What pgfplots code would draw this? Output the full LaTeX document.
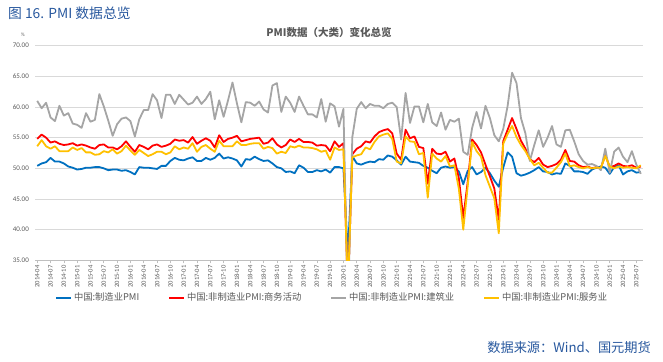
\documentclass[border=0pt]{standalone}
\usepackage{pgfplots}
\pgfplotsset{compat=1.18}
\usepackage{pgfplotstable}
\usepackage{fontspec}
\setmainfont{Noto Sans CJK SC}
\newfontfamily\numfont{Carlito}
\definecolor{cblue}{RGB}{0,112,192}
\definecolor{cred}{RGB}{255,0,0}
\definecolor{cgray}{RGB}{165,165,165}
\definecolor{cyellow}{RGB}{255,192,0}
\definecolor{titleblue}{RGB}{40,88,158}
\definecolor{txtgray}{RGB}{89,89,89}
\definecolor{gridgray}{RGB}{217,217,217}
\definecolor{axgray}{RGB}{191,191,191}

\pgfplotstableread{
i mfg non cons serv
0 50.4 54.8 61.0 53.6
1 50.8 55.5 59.8 54.6
2 51.0 55.0 60.7 53.6
3 51.7 54.2 58.3 53.2
4 51.1 54.4 57.7 53.6
5 51.1 54.0 60.2 52.8
6 50.8 53.8 58.6 52.8
7 50.3 53.9 59.0 52.8
8 50.1 54.1 57.3 53.4
9 49.8 53.7 57.1 53.0
10 49.9 53.9 56.6 53.3
11 50.1 53.7 59.0 52.6
12 50.1 53.4 57.6 52.6
13 50.2 53.2 57.9 52.2
14 50.2 53.8 62.1 52.3
15 50.0 53.9 60.1 52.8
16 49.7 53.4 57.8 52.6
17 49.8 53.4 55.3 53.1
18 49.8 53.1 57.2 52.4
19 49.6 53.6 58.1 52.8
20 49.7 54.4 58.3 53.7
21 49.4 53.5 57.7 52.9
22 49.0 52.7 55.2 52.2
23 50.2 53.8 58.0 53.0
24 50.1 53.5 59.5 52.5
25 50.1 53.1 59.5 52.0
26 50.0 53.7 62.1 52.3
27 49.9 53.9 61.1 52.7
28 50.4 53.5 58.2 52.7
29 50.4 53.7 62.0 52.3
30 51.2 54.0 62.0 52.6
31 51.7 54.7 60.5 53.6
32 51.4 54.5 62.0 53.1
33 51.3 54.6 61.2 53.4
34 51.6 54.2 60.4 53.2
35 51.8 55.1 60.7 54.1
36 51.2 54.0 61.7 52.7
37 51.2 54.5 60.5 53.5
38 51.7 54.9 61.3 53.8
39 51.4 54.5 62.5 53.2
40 51.7 53.4 58.0 52.7
41 52.4 55.4 61.1 54.5
42 51.6 54.3 58.4 53.6
43 51.8 54.8 61.1 53.6
44 51.6 55.0 64.0 53.6
45 51.3 55.3 60.6 54.4
46 50.3 54.4 57.5 53.8
47 51.5 54.6 60.8 53.8
48 51.4 54.8 60.7 54.0
49 51.9 54.9 60.2 54.1
50 51.5 55.0 60.9 54.1
51 51.2 54.0 59.6 53.2
52 51.3 54.2 59.1 53.5
53 50.8 54.9 63.5 53.3
54 50.2 53.9 63.9 52.4
55 50.0 53.4 59.2 52.7
56 49.4 53.8 61.7 52.5
57 49.5 54.7 60.7 53.6
58 49.2 54.3 59.2 53.4
59 50.5 54.8 61.7 53.7
60 50.1 54.3 60.2 53.4
61 49.4 54.3 58.8 53.4
62 49.4 54.2 58.8 53.3
63 49.7 53.7 58.3 53.1
64 49.5 53.8 61.3 52.7
65 49.8 53.7 57.6 52.9
66 49.3 52.8 60.6 51.4
67 50.2 54.4 60.1 53.4
68 50.2 53.5 56.8 53.0
69 50.0 54.1 59.7 53.1
70 35.7 29.6 26.6 30.1
71 52.0 52.3 55.1 51.8
72 50.8 53.2 59.7 52.1
73 50.6 53.6 60.8 52.3
74 50.9 54.4 59.8 53.4
75 51.1 54.2 60.5 53.1
76 51.0 55.2 60.2 54.3
77 51.5 55.9 60.2 55.2
78 51.4 56.2 59.8 55.5
79 52.1 56.4 60.5 55.7
80 51.9 55.7 60.7 54.8
81 51.3 52.4 60.0 51.1
82 50.6 51.4 54.7 50.8
83 51.9 56.3 62.3 55.2
84 51.1 54.9 57.4 54.4
85 51.0 55.2 60.1 54.3
86 50.9 53.5 60.1 52.3
87 50.4 53.3 57.5 52.5
88 50.1 47.5 60.5 45.2
89 49.6 53.2 57.5 52.4
90 49.2 52.4 56.9 51.6
91 50.1 52.3 59.1 51.1
92 50.3 52.7 56.3 52.0
93 50.1 51.1 57.9 50.3
94 50.2 51.6 57.6 50.5
95 49.5 48.4 58.1 46.7
96 47.4 41.9 52.7 40.0
97 49.6 47.8 52.2 47.1
98 50.2 54.7 56.6 54.3
99 49.0 53.8 59.2 52.8
100 49.4 52.6 56.5 51.9
101 50.1 50.6 60.2 48.9
102 49.2 48.7 58.2 47.0
103 48.0 46.7 55.4 45.1
104 47.0 41.6 54.4 39.4
105 50.1 54.4 56.4 54.0
106 52.6 56.3 60.2 55.6
107 51.9 58.2 65.6 56.9
108 49.2 56.4 63.9 55.1
109 48.8 54.5 58.2 53.8
110 49.0 53.2 55.7 52.8
111 49.3 51.5 51.2 51.5
112 49.7 51.0 53.8 50.5
113 50.2 51.7 56.2 50.9
114 49.5 50.6 53.5 50.1
115 49.4 50.2 55.0 49.3
116 49.0 50.4 56.9 49.3
117 49.2 50.7 53.9 50.1
118 49.1 51.4 53.5 51.0
119 50.8 53.0 56.2 52.4
120 50.4 51.2 56.3 50.3
121 49.5 51.1 54.4 50.5
122 49.5 50.5 52.3 50.2
123 49.4 50.2 51.2 50.0
124 49.1 50.3 50.6 50.2
125 49.8 50.0 50.7 50.0
126 50.1 50.2 50.4 50.1
127 50.3 50.0 49.7 50.1
128 50.1 52.2 53.2 52.0
129 49.1 50.2 49.3 50.3
130 50.2 50.4 52.7 50.0
131 50.5 50.8 53.4 50.3
132 49.0 50.4 51.9 50.1
133 49.5 50.3 51.0 50.2
134 49.7 50.5 52.8 50.1
135 49.3 50.1 50.6 50.0
136 49.4 50.3 49.1 50.5
}\datatable

\begin{document}
\begin{tikzpicture}[x=1pt,y=1pt]
\path[use as bounding box] (0,0) rectangle (663,361);
\node[anchor=west, inner sep=0pt, text=titleblue, font=\fontsize{13.8}{15}\selectfont] at (8,348) {图 16. PMI 数据总览};
\node[anchor=center, inner sep=0pt, text=txtgray, font=\numfont\fontsize{5}{6}\selectfont] at (23,326) {\%};
\node[anchor=east, inner sep=0pt, text=titleblue, font=\fontsize{13.2}{15}\selectfont] at (651,14) {数据来源：Wind、国元期货};
\begin{axis}[
  at={(35pt,100.7pt)}, anchor=south west,
  scale only axis, width=608pt, height=214.6pt,
  xmin=-0.5, xmax=136.5, ymin=35, ymax=70,
  axis x line*=bottom, axis y line*=left,
  x axis line style={axgray, line width=0.7pt},
  y axis line style={draw=none},
  ytick={35,40,...,70},
  ymajorgrids, grid style={gridgray, line width=0.7pt},
  ytick style={draw=none},
  xtick={0,3,...,135},
  xticklabels={2014-04,2014-07,2014-10,2015-01,2015-04,2015-07,2015-10,2016-01,2016-04,2016-07,2016-10,2017-01,2017-04,2017-07,2017-10,2018-01,2018-04,2018-07,2018-10,2019-01,2019-04,2019-07,2019-10,2020-01,2020-04,2020-07,2020-10,2021-01,2021-04,2021-07,2021-10,2022-01,2022-04,2022-07,2022-10,2023-01,2023-04,2023-07,2023-10,2024-01,2024-04,2024-07,2024-10,2025-01,2025-04,2025-07},
  xtick style={axgray, line width=0.6pt},
  tick align=outside, major tick length=3pt,
  xticklabel style={yshift=-2pt, rotate=90, anchor=east, inner sep=0pt, text=txtgray, font=\numfont\fontsize{6.6}{7}\selectfont},
  yticklabel style={xshift=-3pt, anchor=east, inner sep=0pt, text=txtgray, font=\numfont\fontsize{7}{8}\selectfont},
  /pgf/number format/assume math mode=true,
  yticklabel={\pgfmathprintnumber[fixed, fixed zerofill, precision=2]{\tick}},
  title={PMI数据（大类）变化总览},
  title style={at={(0.5,1)}, anchor=center, xshift=-10pt, yshift=7.7pt, text=txtgray, font=\bfseries\fontsize{10.5}{12}\selectfont},
  legend columns=4,
  legend style={at={(0.0329,-0.1743)}, anchor=west, draw=none, fill=none, inner sep=0pt,
    font=\fontsize{9.3}{11}\selectfont, text=txtgray,
    /tikz/every even column/.append style={column sep=27pt}},
  every axis plot/.append style={line width=1.8pt, line join=round, no markers},
]
\addplot[draw=cblue, forget plot] table[x=i, y=mfg] {\datatable};
\addplot[draw=cred, forget plot] table[x=i, y=non] {\datatable};
\addplot[draw=cgray, forget plot] table[x=i, y=cons] {\datatable};
\addplot[draw=cyellow, forget plot] table[x=i, y=serv] {\datatable};
\addlegendimage{legend image code/.code={\draw[draw=cblue, line width=1.8pt] (0pt,0pt) -- (15pt,0pt);}}
\addlegendentry{中国:制造业PMI}
\addlegendimage{legend image code/.code={\draw[draw=cred, line width=1.8pt] (0pt,0pt) -- (15pt,0pt);}}
\addlegendentry{中国:非制造业PMI:商务活动}
\addlegendimage{legend image code/.code={\draw[draw=cgray, line width=1.8pt] (0pt,0pt) -- (15pt,0pt);}}
\addlegendentry{中国:非制造业PMI:建筑业}
\addlegendimage{legend image code/.code={\draw[draw=cyellow, line width=1.8pt] (0pt,0pt) -- (15pt,0pt);}}
\addlegendentry{中国:非制造业PMI:服务业}
\end{axis}
\end{tikzpicture}
\end{document}
